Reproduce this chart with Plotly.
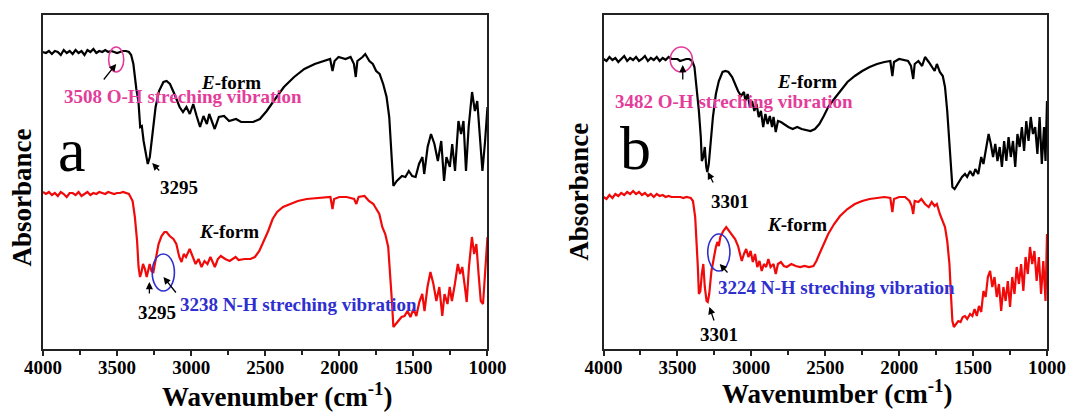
import plotly.graph_objects as go

# ---------------- data ----------------
# panel a, E-form (black)
wn_a_E = [4000,3980,3960,3940,3920,3900,3880,3860,3840,3820,
          3800,3780,3760,3740,3720,3700,3680,3660,3640,3620,
          3600,3580,3560,3540,3520,3500,3480,3460,3440,3420,
          3405,3390,3370,3356,3344,3333,3321,3303,3293,3279,
          3263,3240,3217,3187,3166,3143,3113,3078,3055,3032,
          3009,2986,2963,2940,2917,2894,2878,2859,2841,2813,
          2778,2744,2697,2663,2628,2582,2536,2490,2443,2374,
          2305,2236,2166,2097,2062,2046,2032,2005,1958,1924,
          1901,1889,1878,1843,1825,1797,1774,1751,1728,1704,
          1681,1663,1647,1635,1612,1577,1554,1531,1508,1485,
          1462,1439,1427,1404,1381,1358,1335,1312,1293,1277,
          1254,1238,1219,1196,1178,1162,1145,1127,1104,1085,
          1069,1053,1034,1016,1000]
ab_a_E = [297,296,298,295,298,297,294,299,296,298,
          295,299,296,298,294,299,297,300,296,298,
          297,299,297,298,297,296,297,298,298,297,
          294,285,260,248,222,223,208,192,185,192,
          215,242,258,267,268,265,255,242,237,242,
          235,245,233,222,233,225,235,227,220,232,
          233,228,230,227,227,227,230,238,248,262,
          272,280,285,288,290,278,288,292,290,292,
          285,272,288,292,295,288,285,278,275,265,
          252,232,198,163,168,173,172,178,173,172,
          185,192,175,202,215,205,188,208,168,192,
          182,205,178,228,215,228,178,222,257,238,
          248,215,178,208,242]

# panel a, K-form (red)
wn_a_K = [4000,3980,3960,3940,3920,3900,3880,3860,3840,3820,
          3800,3780,3760,3740,3720,3700,3680,3660,3640,3620,
          3600,3580,3560,3540,3520,3500,3480,3460,3440,3420,
          3395,3380,3365,3355,3345,3335,3325,3312,3300,3290,
          3280,3268,3255,3245,3235,3220,3200,3180,3166,3145,
          3120,3100,3080,3065,3050,3035,3010,2990,2970,2950,
          2930,2910,2890,2870,2855,2840,2820,2800,2770,2740,
          2700,2680,2640,2600,2570,2540,2510,2480,2450,2420,
          2380,2330,2280,2220,2160,2100,2060,2046,2035,2000,
          1950,1900,1885,1870,1830,1800,1770,1750,1730,1710,
          1690,1670,1655,1645,1635,1620,1600,1580,1560,1540,
          1520,1500,1480,1460,1440,1425,1405,1385,1365,1345,
          1325,1305,1290,1270,1255,1240,1220,1200,1185,1170,
          1155,1140,1125,1105,1090,1075,1060,1045,1030,1015,
          1000]
ab_a_K = [157,155,157,154,156,153,157,155,152,156,
          156,154,157,153,155,157,154,156,155,157,
          156,155,157,156,155,156,156,157,156,155,
          148,132,108,82,72,77,85,80,72,78,
          85,78,77,85,95,105,113,117,117,113,
          110,105,92,87,95,92,100,92,85,90,
          82,88,85,92,87,82,90,93,90,88,
          92,89,90,90,92,98,108,118,130,137,
          142,145,148,150,151,152,152,140,150,152,
          152,150,145,152,153,148,145,140,135,122,
          115,102,75,48,22,25,28,32,33,38,
          32,40,33,47,55,38,62,77,65,48,
          62,33,55,45,62,48,65,85,75,82,
          65,47,82,112,95,105,75,48,45,75,
          112]

# panel b, E-form (black)
wn_b_E = [4000,3980,3960,3940,3920,3900,3880,3860,3840,3820,
          3800,3780,3760,3740,3720,3700,3680,3660,3640,3620,
          3600,3580,3560,3540,3520,3500,3482,3460,3440,3420,
          3400,3385,3370,3355,3342,3335,3325,3315,3305,3298,
          3288,3275,3260,3240,3220,3195,3175,3155,3130,3110,
          3090,3070,3050,3040,3025,3010,2995,2980,2965,2950,
          2935,2920,2905,2890,2875,2860,2850,2835,2820,2800,
          2780,2750,2720,2690,2660,2630,2600,2570,2540,2510,
          2480,2440,2400,2350,2300,2250,2200,2150,2100,2060,
          2046,2035,2000,1970,1940,1920,1905,1895,1870,1845,
          1825,1800,1780,1760,1745,1725,1705,1690,1675,1660,
          1650,1640,1625,1605,1590,1575,1555,1540,1520,1500,
          1485,1465,1445,1430,1415,1395,1380,1365,1350,1335,
          1320,1305,1290,1275,1260,1245,1230,1215,1200,1185,
          1170,1155,1140,1125,1110,1095,1080,1065,1050,1035,
          1020,1010,1000]
ab_b_E = [290,288,292,289,291,287,290,293,288,291,
          289,292,288,290,293,288,291,289,292,288,
          291,289,292,290,290,290,288,289,290,290,
          288,282,262,238,212,188,192,202,182,177,
          185,208,232,255,268,277,278,277,272,265,
          258,253,257,248,255,242,248,238,245,232,
          238,222,235,225,233,222,232,217,228,227,
          225,222,220,222,220,219,218,220,225,233,
          242,250,258,267,273,278,282,285,287,288,
          273,287,290,289,288,283,270,285,288,283,
          292,287,282,278,285,277,273,262,238,208,
          182,162,160,165,168,172,175,172,178,173,
          180,175,192,185,198,215,205,192,205,188,
          202,182,208,188,212,192,208,182,215,202,
          222,198,228,208,232,215,222,195,232,185,
          222,188,248]

# panel b, K-form (red)
wn_b_K = [4000,3980,3960,3940,3920,3900,3880,3860,3840,3820,
          3800,3780,3760,3740,3720,3700,3680,3660,3640,3620,
          3600,3580,3560,3540,3520,3500,3480,3460,3440,3410,
          3395,3380,3370,3362,3355,3345,3335,3325,3315,3303,
          3295,3285,3270,3255,3240,3230,3220,3210,3190,3170,
          3150,3130,3110,3090,3075,3065,3050,3035,3020,3005,
          2990,2975,2960,2945,2930,2915,2900,2885,2870,2850,
          2835,2820,2800,2780,2760,2730,2700,2670,2640,2610,
          2580,2560,2540,2510,2480,2440,2400,2350,2300,2250,
          2200,2150,2100,2060,2046,2035,2000,1960,1930,1915,
          1905,1895,1870,1850,1825,1800,1780,1760,1745,1725,
          1705,1690,1675,1660,1650,1640,1630,1615,1600,1585,
          1570,1555,1540,1520,1505,1490,1475,1460,1445,1430,
          1415,1400,1385,1370,1355,1340,1325,1310,1295,1280,
          1265,1250,1235,1220,1205,1190,1175,1160,1145,1130,
          1115,1100,1085,1070,1055,1040,1025,1010,1000]
ab_b_K = [152,150,154,151,155,153,156,154,157,155,
          158,155,157,154,156,153,155,152,155,153,
          154,152,153,152,152,152,152,151,152,151,
          148,132,108,82,55,58,75,85,62,48,
          47,55,78,92,102,107,103,112,118,122,
          118,115,110,103,95,88,95,100,92,98,
          87,95,82,88,78,85,82,90,82,85,
          75,85,87,83,82,85,83,82,83,82,
          83,88,95,105,115,125,133,140,145,148,
          150,151,152,151,137,150,152,152,148,143,
          135,148,147,150,145,142,147,143,145,135,
          128,122,108,85,55,28,22,25,28,27,
          32,33,30,35,33,40,33,43,37,58,
          52,72,78,62,72,52,65,38,62,48,
          68,42,72,55,82,65,85,58,92,75,
          102,85,98,68,92,55,88,48,115]

tick_vals = [4000, 3500, 3000, 2500, 2000, 1500, 1000]
panel_letters = ["a", "b"]
oh_labels = ["3508 O-H streching vibration", "3482 O-H streching vibration"]
nh_labels = ["3238 N-H streching vibration", "3224 N-H streching vibration"]
peak_labels = ["3295", "3301"]

# ---------------- styling ----------------
SERIF = "Liberation Serif, Times New Roman, serif"
PINK = "#E43C9A"
BLUE = "#2F2FCF"
RED = "#F00A0A"

fig = go.Figure()
for xa, ya, wnE, abE, wnK, abK in [("x", "y", wn_a_E, ab_a_E, wn_a_K, ab_a_K),
                                   ("x2", "y2", wn_b_E, ab_b_E, wn_b_K, ab_b_K)]:
    fig.add_trace(go.Scatter(x=wnE, y=abE, mode="lines", xaxis=xa, yaxis=ya,
                             line=dict(color="black", width=2.2), showlegend=False))
    fig.add_trace(go.Scatter(x=wnK, y=abK, mode="lines", xaxis=xa, yaxis=ya,
                             line=dict(color=RED, width=2.2), showlegend=False))

xcommon = dict(range=[4000, 1000], tickmode="array", tickvals=tick_vals,
               ticks="outside", ticklen=5, tickwidth=1.5, tickcolor="#222",
               ticklabelstandoff=-5,
               minor=dict(ticks="outside", ticklen=4, tickwidth=1.5, tickcolor="#222",
                          tickmode="linear", tick0=1000, dtick=250),
               showline=True, linewidth=2, linecolor="#222", mirror=True,
               showgrid=False, zeroline=False,
               tickfont=dict(family=SERIF, size=19, color="black", weight="bold"))
ycommon = dict(range=[0, 334], showticklabels=False, ticks="",
               showline=True, linewidth=2, linecolor="#222", mirror=True,
               showgrid=False, zeroline=False)

fig.update_layout(
    width=1078, height=412,
    margin=dict(l=43, r=23, t=15, b=63),
    paper_bgcolor="white", plot_bgcolor="white",
    xaxis=dict(domain=[0, 0.4427], anchor="y", **xcommon),
    yaxis=dict(domain=[0, 1], anchor="x", **ycommon),
    xaxis2=dict(domain=[0.5583, 1], anchor="y2", **xcommon),
    yaxis2=dict(domain=[0, 1], anchor="x2", **ycommon),
)

ann = []
shapes = []

def txt(xr, yr, x, y, s, color="black", size=19, bold=True):
    ann.append(dict(xref=xr, yref=yr, x=x, y=y, text=s, showarrow=False,
                    xanchor="center", yanchor="middle",
                    font=dict(family=SERIF, size=size, color=color,
                              weight="bold" if bold else "normal")))

def arrow(xr, yr, x0, y0, x1, y1):
    ann.append(dict(xref=xr, yref=yr, axref=xr, ayref=yr, x=x1, y=y1, ax=x0, ay=y0,
                    text="", showarrow=True, arrowhead=2, arrowsize=1.1,
                    arrowwidth=1.3, arrowcolor="black"))

def ellipse(xr, yr, x0, x1, y0, y1, color):
    shapes.append(dict(type="circle", xref=xr, yref=yr, x0=x0, x1=x1, y0=y0, y1=y1,
                       line=dict(color=color, width=1.6)))

# panel a
txt("x", "y", 3806, 199, panel_letters[0], size=62, bold=False)
ellipse("x", "y", 3557, 3455, 277, 302, PINK)
arrow("x", "y", 3598, 268, 3506, 285)
txt("x", "y", 3055, 253, oh_labels[0], PINK)
txt("x", "y", 2732, 267, "<i>E</i>-form")
txt("x", "y", 3079, 162, peak_labels[0])
arrow("x", "y", 3206, 177, 3263, 186)
txt("x", "y", 2744, 118, "<i>K</i>-form")
ellipse("x", "y", 3263, 3113, 58, 95, BLUE)
arrow("x", "y", 3095, 55, 3187, 72)
txt("x", "y", 2276, 45, nh_labels[0], BLUE)
txt("x", "y", 3229, 37, peak_labels[0])
arrow("x", "y", 3282, 54, 3282, 67)

# panel b
txt("x2", "y2", 3785, 201, panel_letters[1], size=62, bold=False)
ellipse("x2", "y2", 3549, 3399, 277, 302, PINK)
arrow("x2", "y2", 3464, 268, 3464, 284)
txt("x2", "y2", 3116, 248, oh_labels[1], PINK)
txt("x2", "y2", 2625, 268, "<i>E</i>-form")
txt("x2", "y2", 3145, 148, peak_labels[1])
arrow("x2", "y2", 3253, 165, 3295, 177)
txt("x2", "y2", 2694, 125, "<i>K</i>-form")
ellipse("x2", "y2", 3295, 3145, 78, 115, BLUE)
arrow("x2", "y2", 3152, 75, 3214, 85)
txt("x2", "y2", 2423, 62, nh_labels[1], BLUE)
txt("x2", "y2", 3221, 15, peak_labels[1])
arrow("x2", "y2", 3249, 27, 3284, 42)

# axis titles
for xp, yp in [(0.2332, -0.139), (0.7905, -0.128)]:
    ann.append(dict(xref="paper", yref="paper", x=xp, y=yp, showarrow=False,
                    text="Wavenumber (cm<sup>-1</sup>)", xanchor="center", yanchor="middle",
                    font=dict(family=SERIF, size=27, color="black", weight="bold")))
for xp, yp in [(-0.0204, 0.452), (0.5336, 0.47)]:
    ann.append(dict(xref="paper", yref="paper", x=xp, y=yp, showarrow=False,
                    text="Absorbance", textangle=-90, xanchor="center", yanchor="middle",
                    font=dict(family=SERIF, size=27, color="black", weight="bold")))

fig.update_layout(annotations=ann, shapes=shapes)
fig.write_html("out.html", config={"displayModeBar": False},
               post_script="document.body.style.margin='0';document.body.style.padding='0';")
